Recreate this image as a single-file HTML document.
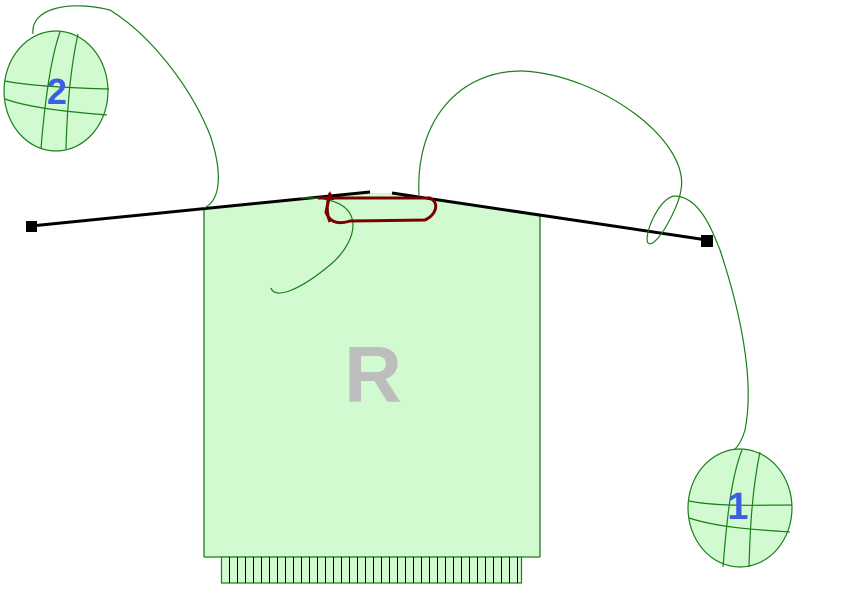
<!DOCTYPE html>
<html><head><meta charset="utf-8"><style>html,body{margin:0;padding:0;background:#fff}svg{display:block}</style></head>
<body>
<svg width="854" height="589" viewBox="0 0 854 589" xmlns="http://www.w3.org/2000/svg">
<!-- card -->
<polygon points="204,208 370,193 392,193 540,215 540,557 204,557" fill="#d2fad0" stroke="none"/>
<line x1="204" y1="208" x2="204" y2="557" stroke="#1e7a1e" stroke-width="1.3"/>
<line x1="540" y1="215" x2="540" y2="557" stroke="#1e7a1e" stroke-width="1.3"/>
<line x1="204" y1="557" x2="540" y2="557" stroke="#1e7a1e" stroke-width="1.3"/>
<!-- connector -->
<rect x="221.5" y="557" width="300" height="26" fill="#d2fad0" stroke="#1e7a1e" stroke-width="1.2"/>
<g stroke="#000" stroke-width="1">
<script>/* none */</script>
</g>
<g id="pins" stroke="#000" stroke-width="1"></g>
<!-- R -->
<text x="373" y="402" font-family="Liberation Sans, sans-serif" font-weight="bold" font-size="80" fill="#bdbdbd" text-anchor="middle">R</text>
<!-- black wire -->
<line x1="31" y1="226" x2="370" y2="192" stroke="#000" stroke-width="3"/>
<line x1="392" y1="193" x2="707" y2="240" stroke="#000" stroke-width="3"/>
<rect x="26" y="221" width="11" height="11" fill="#000"/>
<rect x="701" y="235" width="12" height="12" fill="#000"/>
<!-- green wires -->
<g fill="none" stroke="#1a7f1a" stroke-width="1.2">
<path d="M204,208 C222,200 222,170 210,135 C190,85 150,35 110,10 C70,0 30,8 33,34"/>
<path d="M419,195 C415,120 460,70 523,71 C600,75 690,140 681,190 C678,210 655,250 648,243 C643,235 660,195 676,196 C700,198 712,230 720,250 C740,310 755,380 745,430 C742,440 738,448 732,451"/>
<path d="M301,198 C370,195 360,240 330,265 C300,290 275,300 271,288"/>
</g>
<!-- red loop -->
<path d="M330,222 C325,210 328,200 330,193 M318,198 L430,198 C440,203 436,215 425,220 L350,221 C340,224 330,224 326,212 L330,194" fill="none" stroke="#7a0000" stroke-width="3"/>
<polygon points="326,200 330,191 334,200" fill="#7a0000"/>
<!-- ball 2 -->
<g fill="none" stroke="#1a7f1a" stroke-width="1.2">
<ellipse cx="56" cy="91" rx="52" ry="60" fill="#d2fad0"/>
<path d="M60,32 C50,60 44,110 41,149"/>
<path d="M78,34 C70,70 67,110 66,149"/>
<path d="M5,81 C30,86 70,88 109,89"/>
<path d="M5,99 C30,108 70,112 107,115"/>
</g>
<text x="57" y="104" font-family="Liberation Sans, sans-serif" font-weight="bold" font-size="36" fill="#3a5fe0" text-anchor="middle">2</text>
<!-- ball 1 -->
<g fill="none" stroke="#1a7f1a" stroke-width="1.2">
<ellipse cx="740" cy="508" rx="52" ry="59" fill="#d2fad0"/>
<path d="M742,450 C730,480 726,530 723,567"/>
<path d="M760,452 C752,490 750,530 749,567"/>
<path d="M689,501 C720,507 760,505 792,505"/>
<path d="M689,518 C720,528 760,530 790,532"/>
</g>
<text x="738" y="519" font-family="Liberation Sans, sans-serif" font-weight="bold" font-size="38" fill="#3a5fe0" text-anchor="middle">1</text>
<g stroke="#000" stroke-width="1">
<line x1="229.5" y1="557" x2="229.5" y2="583"/><line x1="237.5" y1="557" x2="237.5" y2="583"/><line x1="245.5" y1="557" x2="245.5" y2="583"/><line x1="253.5" y1="557" x2="253.5" y2="583"/><line x1="261.5" y1="557" x2="261.5" y2="583"/><line x1="269.5" y1="557" x2="269.5" y2="583"/><line x1="277.5" y1="557" x2="277.5" y2="583"/><line x1="285.5" y1="557" x2="285.5" y2="583"/><line x1="293.5" y1="557" x2="293.5" y2="583"/><line x1="301.5" y1="557" x2="301.5" y2="583"/><line x1="309.5" y1="557" x2="309.5" y2="583"/><line x1="317.5" y1="557" x2="317.5" y2="583"/><line x1="325.5" y1="557" x2="325.5" y2="583"/><line x1="333.5" y1="557" x2="333.5" y2="583"/><line x1="341.5" y1="557" x2="341.5" y2="583"/><line x1="349.5" y1="557" x2="349.5" y2="583"/><line x1="357.5" y1="557" x2="357.5" y2="583"/><line x1="365.5" y1="557" x2="365.5" y2="583"/><line x1="373.5" y1="557" x2="373.5" y2="583"/><line x1="381.5" y1="557" x2="381.5" y2="583"/><line x1="389.5" y1="557" x2="389.5" y2="583"/><line x1="397.5" y1="557" x2="397.5" y2="583"/><line x1="405.5" y1="557" x2="405.5" y2="583"/><line x1="413.5" y1="557" x2="413.5" y2="583"/><line x1="421.5" y1="557" x2="421.5" y2="583"/><line x1="429.5" y1="557" x2="429.5" y2="583"/><line x1="437.5" y1="557" x2="437.5" y2="583"/><line x1="445.5" y1="557" x2="445.5" y2="583"/><line x1="453.5" y1="557" x2="453.5" y2="583"/><line x1="461.5" y1="557" x2="461.5" y2="583"/><line x1="469.5" y1="557" x2="469.5" y2="583"/><line x1="477.5" y1="557" x2="477.5" y2="583"/><line x1="485.5" y1="557" x2="485.5" y2="583"/><line x1="493.5" y1="557" x2="493.5" y2="583"/><line x1="501.5" y1="557" x2="501.5" y2="583"/><line x1="509.5" y1="557" x2="509.5" y2="583"/><line x1="517.5" y1="557" x2="517.5" y2="583"/>
</g>
</svg>
</body></html>
